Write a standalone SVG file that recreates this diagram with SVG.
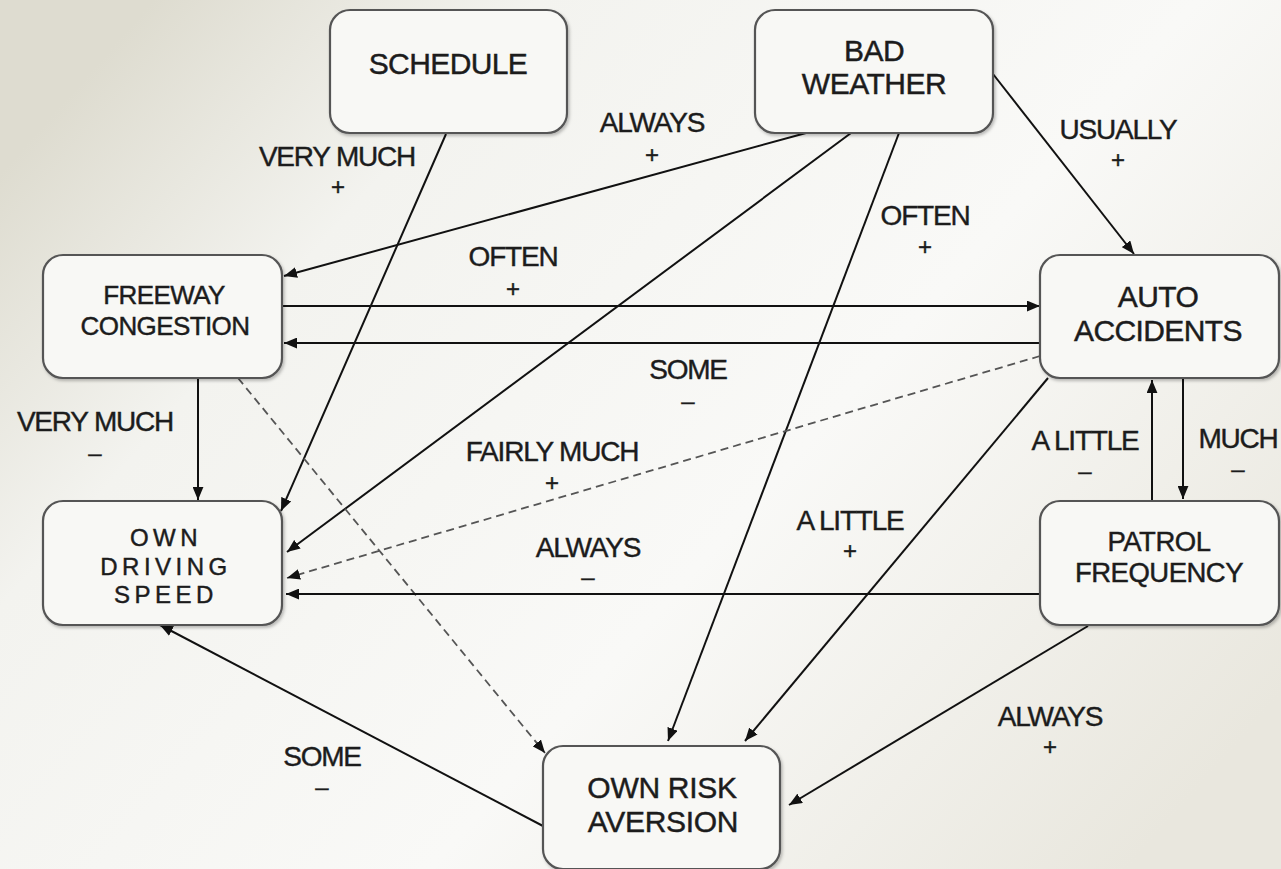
<svg xmlns="http://www.w3.org/2000/svg" width="1281" height="869" viewBox="0 0 1281 869">
<defs>
<linearGradient id="bg" x1="0" y1="0.2" x2="1" y2="0.8">
<stop offset="0" stop-color="#dedcd0"/>
<stop offset="0.22" stop-color="#f3f3ef"/>
<stop offset="0.6" stop-color="#f9f9f7"/>
<stop offset="1" stop-color="#e9e7de"/>
</linearGradient>
<marker id="arr" viewBox="0 0 12 10" refX="12" refY="5" markerWidth="13" markerHeight="11" markerUnits="userSpaceOnUse" orient="auto">
<path d="M0,0 L12,5 L0,10 z" fill="#111"/>
</marker>
<filter id="sh" x="-5%" y="-5%" width="115%" height="115%">
<feDropShadow dx="1.5" dy="2" stdDeviation="1.5" flood-color="#000" flood-opacity="0.25"/>
</filter>
</defs>
<style>
.box{fill:#f8f8f5;stroke:#555;stroke-width:2.2;filter:url(#sh)}
.nt{font-family:"Liberation Sans",Arial,sans-serif;fill:#1c1c1c;stroke:#1c1c1c;stroke-width:0.45;text-anchor:middle}
.lb{font-family:"Liberation Sans",Arial,sans-serif;fill:#1c1c1c;stroke:#1c1c1c;stroke-width:0.4;text-anchor:middle;font-size:28px;letter-spacing:-1.2px}
.sg{font-family:"Liberation Sans",Arial,sans-serif;fill:#1c1c1c;stroke:#1c1c1c;stroke-width:0.4;text-anchor:middle;font-size:24px}
.ln{stroke:#111;stroke-width:2;fill:none;marker-end:url(#arr)}
.dl{stroke:#555;stroke-width:1.8;fill:none;stroke-dasharray:8,5;marker-end:url(#arr)}
</style>
<rect width="1281" height="869" fill="url(#bg)"/>

<g id="connectors">
<line class="ln" x1="446" y1="134" x2="281" y2="511"/>
<line class="ln" x1="806" y1="133" x2="284" y2="276"/>
<line class="ln" x1="851" y1="133" x2="287" y2="552"/>
<line class="ln" x1="899" y1="133" x2="668" y2="741"/>
<line class="ln" x1="993" y1="74" x2="1134" y2="254"/>
<line class="ln" x1="283" y1="306" x2="1040" y2="306"/>
<line class="ln" x1="1040" y1="343" x2="284" y2="343"/>
<line class="dl" x1="1040" y1="356" x2="287" y2="578"/>
<line class="ln" x1="198" y1="379" x2="198" y2="500"/>
<line class="dl" x1="238" y1="378" x2="545" y2="753"/>
<line class="ln" x1="1040" y1="594" x2="286" y2="594"/>
<line class="ln" x1="1048" y1="378" x2="745" y2="741"/>
<line class="ln" x1="1152" y1="500" x2="1152" y2="380"/>
<line class="ln" x1="1183" y1="379" x2="1183" y2="499"/>
<line class="ln" x1="1088" y1="626" x2="789" y2="805"/>
<line class="ln" x1="543" y1="826" x2="160" y2="625"/>
</g>

<g id="labels">
<text class="lb" x="337" y="166">VERY MUCH</text><text class="sg" x="338" y="195">+</text>
<text class="lb" x="652" y="132">ALWAYS</text><text class="sg" x="652" y="163">+</text>
<text class="lb" x="1118" y="139">USUALLY</text><text class="sg" x="1118" y="168">+</text>
<text class="lb" x="925" y="225">OFTEN</text><text class="sg" x="925" y="255">+</text>
<text class="lb" x="513" y="266">OFTEN</text><text class="sg" x="513" y="297">+</text>
<text class="lb" x="688" y="379">SOME</text><text class="sg" x="688" y="409">–</text>
<text class="lb" x="95" y="431">VERY MUCH</text><text class="sg" x="95" y="461">–</text>
<text class="lb" x="552" y="461">FAIRLY MUCH</text><text class="sg" x="552" y="491">+</text>
<text class="lb" x="1085" y="450">A LITTLE</text><text class="sg" x="1085" y="479">–</text>
<text class="lb" x="1238" y="448">MUCH</text><text class="sg" x="1238" y="477">–</text>
<text class="lb" x="588" y="557">ALWAYS</text><text class="sg" x="588" y="585">–</text>
<text class="lb" x="850" y="530">A LITTLE</text><text class="sg" x="850" y="559">+</text>
<text class="lb" x="1050" y="726">ALWAYS</text><text class="sg" x="1050" y="755">+</text>
<text class="lb" x="322" y="766">SOME</text><text class="sg" x="322" y="795">–</text>
</g>

<g id="schedule">
<rect class="box" x="330" y="10" width="237" height="123" rx="20"/>
<text class="nt" x="448" y="74" font-size="30" letter-spacing="-0.6">SCHEDULE</text>
</g>
<g id="bad-weather">
<rect class="box" x="755" y="10" width="238" height="123" rx="20"/>
<text class="nt" x="874" y="61" font-size="30" letter-spacing="-0.5">BAD</text>
<text class="nt" x="874" y="94" font-size="30" letter-spacing="-0.5">WEATHER</text>
</g>
<g id="freeway-congestion">
<rect class="box" x="43" y="255" width="239" height="123" rx="20"/>
<text class="nt" x="164" y="304" font-size="26" letter-spacing="-0.6">FREEWAY</text>
<text class="nt" x="165" y="335" font-size="26" letter-spacing="-0.6">CONGESTION</text>
</g>
<g id="auto-accidents">
<rect class="box" x="1040" y="255" width="239" height="123" rx="20"/>
<text class="nt" x="1158" y="307" font-size="30" letter-spacing="-0.6">AUTO</text>
<text class="nt" x="1158" y="341" font-size="30" letter-spacing="-0.6">ACCIDENTS</text>
</g>
<g id="own-driving-speed">
<rect class="box" x="43" y="501" width="239" height="124" rx="20"/>
<text class="nt" x="166" y="546" font-size="24" letter-spacing="4.5">OWN</text>
<text class="nt" x="166" y="575" font-size="24" letter-spacing="4.5">DRIVING</text>
<text class="nt" x="166" y="603" font-size="24" letter-spacing="4.5">SPEED</text>
</g>
<g id="patrol-frequency">
<rect class="box" x="1040" y="501" width="239" height="124" rx="20"/>
<text class="nt" x="1159" y="551" font-size="27.5" letter-spacing="-0.5">PATROL</text>
<text class="nt" x="1159" y="582" font-size="27.5" letter-spacing="-0.5">FREQUENCY</text>
</g>
<g id="own-risk-aversion">
<rect class="box" x="543" y="746" width="237" height="123" rx="20"/>
<text class="nt" x="662" y="798" font-size="30" letter-spacing="-0.3">OWN RISK</text>
<text class="nt" x="663" y="832" font-size="30" letter-spacing="-0.3">AVERSION</text>
</g>
</svg>
